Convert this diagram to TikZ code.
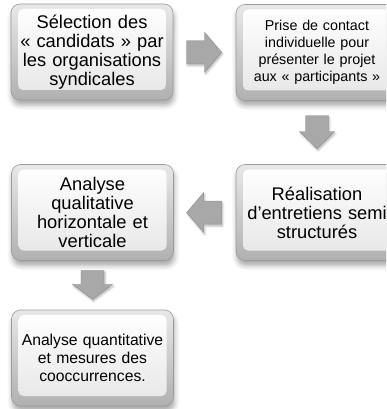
\documentclass[tikz,border=0pt]{standalone}
\usepackage{fontspec}
\setmainfont{Liberation Sans}
\usetikzlibrary{shadows.blur,calc}
\definecolor{edgegray}{HTML}{9A9A9A}
\definecolor{arrowfill}{HTML}{A8A8A8}
\definecolor{arrowedge}{HTML}{8C8C8C}
\tikzset{
  card/.style={
    rounded corners=9pt, minimum width=162pt, minimum height=96pt,
    inner sep=0pt, align=center, text width=158pt,
    draw=edgegray, line width=0.6pt,
    top color=gray!18, bottom color=gray!62,
    blur shadow={shadow xshift=1pt, shadow yshift=-5pt, shadow blur radius=5pt, shadow opacity=35},
    path picture={
      \shade[top color=white, bottom color=gray!20, middle color=gray!10, rounded corners=5pt]
        ([xshift=7pt,yshift=-5pt]path picture bounding box.north west)
        rectangle ([xshift=-7pt,yshift=10pt]path picture bounding box.south east);
    }
  },
  bigtext/.style={font=\fontsize{18.3}{19}\selectfont},
  smalltext/.style={font=\fontsize{14.3}{17.2}\selectfont},
  midtext/.style={font=\fontsize{15.7}{18.3}\selectfont},
  blockarrow/.style={fill=arrowfill, draw=arrowedge, line width=0.4pt, line join=miter,
    blur shadow={shadow xshift=1pt, shadow yshift=-2pt, shadow blur radius=2pt, shadow opacity=30}}
}
\begin{document}
\begin{tikzpicture}[x=1pt,y=-1pt]
\useasboundingbox (0,0) rectangle (386,409);
\clip (0,0) rectangle (386,409);
\node[card,bigtext] (b1) at (92,52) {Sélection des\\« candidats » par\\les organisations\\syndicales};
\node[card,smalltext] (b2) at (317,52.5) {Prise de contact\\individuelle pour\\présenter le projet\\aux « participants »};
\node[card,bigtext] (b3) at (317,212.5) {Réalisation\\d’entretiens semi\\structurés};
\node[card,bigtext] (b4) at (92.5,212.5) {Analyse\\qualitative\\horizontale et\\verticale};
\node[card,midtext] (b5) at (92.5,358) {Analyse quantitative\\et mesures des\\cooccurrences.};
% right arrow b1 -> b2
\coordinate (a1) at ($(b1.east)!0.5!(b2.west)$);
\path[blockarrow] ($(a1)+(-18,-11.5)$) -- ++(18,0) -- ++(0,-8.5) -- ++(17,20) -- ++(-17,20) -- ++(0,-8.5) -- ++(-18,0) -- cycle;
% down arrow b2 -> b3
\coordinate (a2) at ($(b2.south)!0.5!(b3.north)$);
\path[blockarrow] ($(a2)+(-11.5,-17)$) -- ++(23,0) -- ++(0,16) -- ++(6,0) -- ++(-17.5,17) -- ++(-17.5,-17) -- ++(6,0) -- cycle;
% left arrow b3 -> b4
\coordinate (a3) at ($(b3.west)!0.5!(b4.east)$);
\path[blockarrow] ($(a3)+(17,-11.5)$) -- ++(-18,0) -- ++(0,-8.5) -- ++(-17,20) -- ++(17,20) -- ++(0,-8.5) -- ++(18,0) -- cycle;
% down arrow b4 -> b5
\coordinate (a4) at ($(b4.south)!0.5!(b5.north)$);
\path[blockarrow] ($(a4)+(-11.5,-15)$) -- ++(23,0) -- ++(0,14) -- ++(8.5,0) -- ++(-20,15) -- ++(-20,-15) -- ++(8.5,0) -- cycle;
\end{tikzpicture}
\end{document}
